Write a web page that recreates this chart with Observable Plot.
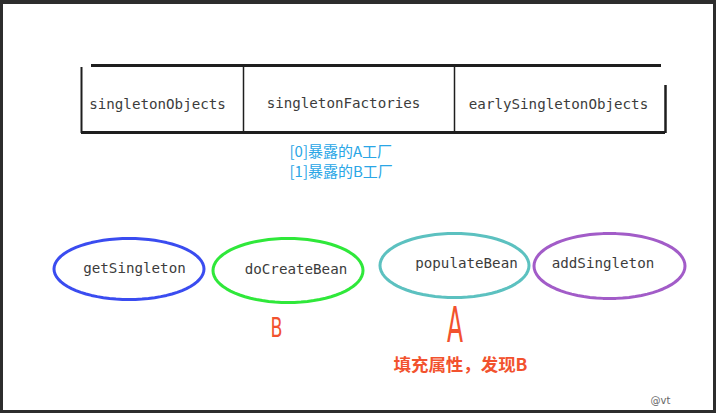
<!DOCTYPE html>
<html>
<head>
<meta charset="utf-8">
<script src="https://cdn.jsdelivr.net/npm/d3@7"></script>
<script src="https://cdn.jsdelivr.net/npm/@observablehq/plot@0.6"></script>
<style>
  html, body { margin: 0; padding: 0; background: #2d2d2d; }
  #chart svg { display: block; }
</style>
</head>
<body>
<div id="chart"></div>
<script>
// ---- data ----
const tableColumns = ["singletonObjects", "singletonFactories", "earlySingletonObjects"];
const factoryEntries = ["[0]暴露的A工厂", "[1]暴露的B工厂"];
const methods = ["getSingleton", "doCreateBean", "populateBean", "addSingleton"];
const beanMarkers = ["B", "A"];
const notes = ["填充属性，发现B"];
const credits = ["@vt"];

// ---- layout (diagram coordinates) ----
const W = 716, H = 413;
const colEdges = [81, 243, 454, 665];
const colLabelX = [157, 343, 558];
const colLabelY = [104, 103, 104];
const tableTop = 65, tableBottom = 132;
const ell = [
  {cx: 128.5, cy: 268.5, rx: 75, ry: 30.5, color: "#3a4cf0"},
  {cx: 287.5, cy: 270, rx: 75, ry: 32, color: "#2fe83a"},
  {cx: 454, cy: 265, rx: 74.5, ry: 32, color: "#5cc1c0"},
  {cx: 609, cy: 265.5, rx: 75.5, ry: 32.5, color: "#a25cc8"}
];
const methodLabelX = [134, 295.5, 466, 602.5];
const methodLabelY = [268, 268.5, 263, 263];
const markerPos = [{x: 276, y: 328, size: 27, w: 12}, {x: 454.5, y: 326, size: 49, w: 16}];

const ink = "#3c3c3c";
const mono = "'DejaVu Sans Mono', monospace";
const cjk = "'Noto Sans CJK SC', sans-serif";

const angles = d3.range(0, 361, 5).map(a => a * Math.PI / 180);

const marks = [
  // page
  Plot.rect([0], {x1: 3, x2: 713, y1: 4, y2: 410, fill: "white"}),

  // table lines
  Plot.ruleY([tableTop], {x1: 91, x2: 661, stroke: "#1e1e1e", strokeWidth: 3}),
  Plot.ruleY([tableBottom], {x1: 81, x2: 665, stroke: "#1e1e1e", strokeWidth: 3}),
  Plot.ruleX([colEdges[0]], {y1: 67, y2: 133, stroke: "#1e1e1e", strokeWidth: 2}),
  Plot.ruleX([colEdges[1]], {y1: 65, y2: 132, stroke: "#1e1e1e", strokeWidth: 1.5}),
  Plot.ruleX([colEdges[2]], {y1: 67, y2: 132, stroke: "#1e1e1e", strokeWidth: 1.5}),
  Plot.ruleX([colEdges[3]], {y1: 85, y2: 133, stroke: "#1e1e1e", strokeWidth: 2.5}),

  Plot.text(tableColumns, {
    x: (d, i) => colLabelX[i], y: (d, i) => colLabelY[i], text: d => d,
    fontFamily: mono, fontSize: 14.2, fill: ink
  }),

  Plot.text(factoryEntries, {
    x: 289, y: (d, i) => 152 + i * 20, text: d => d, textAnchor: "start",
    fontFamily: cjk, fontSize: 15, fill: "#2aa6e6"
  }),

  // method ellipses
  ...methods.map((m, i) => Plot.line(angles, {
    x: t => ell[i].cx + ell[i].rx * Math.cos(t),
    y: t => ell[i].cy + ell[i].ry * Math.sin(t),
    stroke: ell[i].color, strokeWidth: 3, curve: "linear-closed"
  })),

  Plot.text(methods, {
    x: (d, i) => methodLabelX[i], y: (d, i) => methodLabelY[i], text: d => d,
    fontFamily: mono, fontSize: 14.2, fill: ink
  }),

  Plot.text(beanMarkers, {
    x: (d, i) => markerPos[i].x, y: (d, i) => markerPos[i].y, text: d => d,
    fontFamily: "'DejaVu Sans', sans-serif", fontSize: (d, i) => markerPos[i].size,
    fill: "#f2522e"
  }),

  Plot.text(notes, {
    x: 460, y: 365, text: d => d,
    fontFamily: cjk, fontSize: 17, fontWeight: "bold", fill: "#f2522e"
  }),

  Plot.text(credits, {
    x: 660, y: 400, text: d => d,
    fontFamily: "'DejaVu Sans', sans-serif", fontSize: 10, fill: "#666"
  })
];

const chart = Plot.plot({
  width: W, height: H,
  margin: 0,
  x: {domain: [0, W], range: [0, W], axis: null},
  y: {domain: [0, H], range: [0, H], axis: null},
  r: {type: "identity"},
  style: {background: "#2d2d2d", overflow: "visible"},
  marks
});

// narrow the hand-drawn marker letters
const narrow = {"B": markerPos[0].w, "A": markerPos[1].w, "填充属性，发现B": 134};
d3.select(chart).selectAll("text").each(function () {
  const t = this.textContent;
  if (t in narrow) {
    this.setAttribute("textLength", narrow[t]);
    this.setAttribute("lengthAdjust", "spacingAndGlyphs");
  }
});

document.getElementById("chart").appendChild(chart);
</script>
</body>
</html>
